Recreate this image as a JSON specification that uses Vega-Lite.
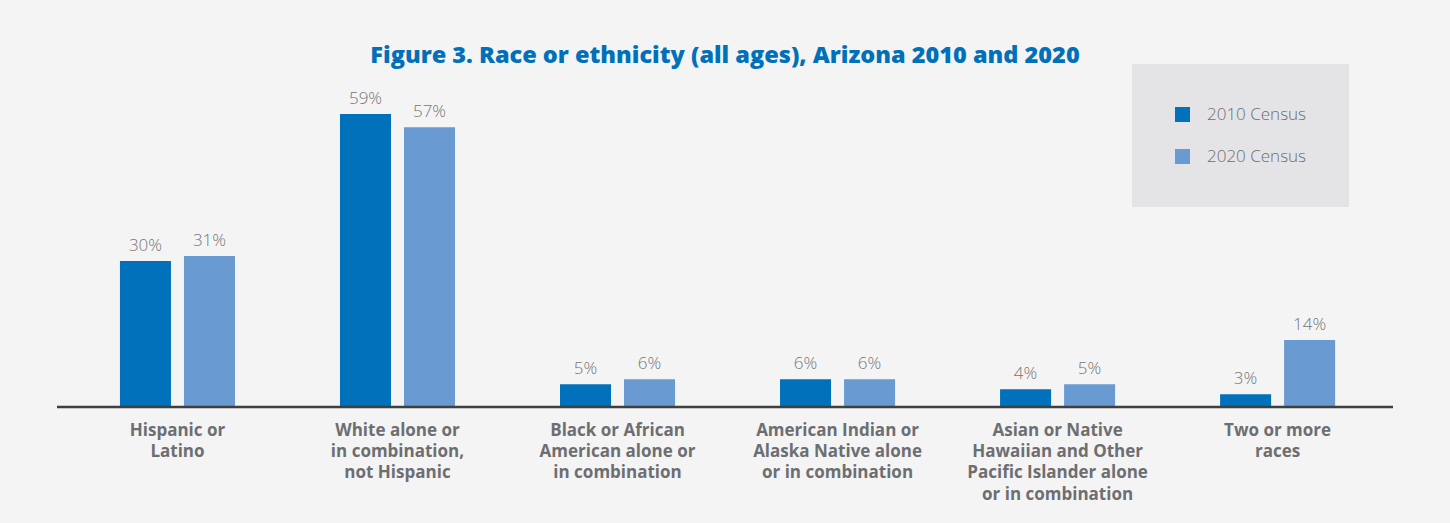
{
  "$schema": "https://vega.github.io/schema/vega-lite/v6.json",
  "width": 1336,
  "height": 296,
  "autosize": {"type": "none"},
  "padding": {"left": 57, "top": 111, "right": 57, "bottom": 116},
  "background": "#f4f4f4",
  "title": {
    "text": "Figure 3. Race or ethnicity (all ages), Arizona 2010 and 2020",
    "font": "Open Sans",
    "fontSize": 23.5,
    "fontWeight": 800,
    "color": "#0070bb",
    "anchor": "middle",
    "frame": "group",
    "offset": -3
  },
  "config": {
    "view": {"stroke": null},
    "font": "Open Sans"
  },
  "data": {
    "values": [
      {"group": "Hispanic or|Latino", "series": "2010 Census", "share": 0.296},
      {"group": "Hispanic or|Latino", "series": "2020 Census", "share": 0.306},
      {"group": "White alone or|in combination,|not Hispanic", "series": "2010 Census", "share": 0.594},
      {"group": "White alone or|in combination,|not Hispanic", "series": "2020 Census", "share": 0.567},
      {"group": "Black or African|American alone or|in combination", "series": "2010 Census", "share": 0.046},
      {"group": "Black or African|American alone or|in combination", "series": "2020 Census", "share": 0.056},
      {"group": "American Indian or|Alaska Native alone|or in combination", "series": "2010 Census", "share": 0.056},
      {"group": "American Indian or|Alaska Native alone|or in combination", "series": "2020 Census", "share": 0.056},
      {"group": "Asian or Native|Hawaiian and Other|Pacific Islander alone|or in combination", "series": "2010 Census", "share": 0.036},
      {"group": "Asian or Native|Hawaiian and Other|Pacific Islander alone|or in combination", "series": "2020 Census", "share": 0.046},
      {"group": "Two or more|races", "series": "2010 Census", "share": 0.026},
      {"group": "Two or more|races", "series": "2020 Census", "share": 0.136}
    ]
  },
  "encoding": {
    "x": {
      "field": "group",
      "type": "nominal",
      "sort": null,
      "scale": {"paddingInner": 0, "paddingOuter": 0.036, "align": 0.66},
      "axis": {
        "title": null,
        "domain": false,
        "ticks": false,
        "labelAngle": 0,
        "labelExpr": "split(datum.label, '|')",
        "labelFont": "Open Sans",
        "labelFontSize": 17,
        "labelFontWeight": "bold",
        "labelColor": "#6d6e71",
        "labelLineHeight": 21.4,
        "labelPadding": 15,
        "labelLimit": 0,
        "labelBaseline": "top"
      }
    },
    "xOffset": {
      "field": "series",
      "type": "nominal",
      "scale": {"paddingInner": 0.203, "paddingOuter": 0.82}
    },
    "y": {
      "field": "share",
      "type": "quantitative",
      "scale": {"domain": [0, 0.6]},
      "axis": null
    }
  },
  "layer": [
    {
      "mark": {"type": "bar"},
      "encoding": {
        "color": {
          "field": "series",
          "type": "nominal",
          "scale": {"domain": ["2010 Census", "2020 Census"], "range": ["#0071ba", "#699bd2"]},
          "legend": {
            "title": null,
            "orient": "none",
            "legendX": 1075,
            "legendY": -47,
            "fillColor": "#e4e4e6",
            "padding": 42,
            "rowPadding": 24,
            "symbolType": "square",
            "symbolSize": 225,
            "symbolStrokeWidth": 0,
            "symbolOffset": 0,
            "labelOffset": 16,
            "labelFont": "Open Sans",
            "labelFontSize": 17,
            "labelFontWeight": 300,
            "labelColor": "#6d6e71"
          }
        }
      }
    },
    {
      "mark": {"type": "text", "baseline": "bottom", "dy": -6, "font": "Open Sans", "fontSize": 17, "fontWeight": 300, "color": "#767676"},
      "encoding": {
        "text": {"field": "share", "type": "quantitative", "format": ".0%"}
      }
    },
    {
      "data": {"values": [{"base": 0}]},
      "mark": {"type": "rule", "color": "#3f3f3f", "strokeWidth": 2.5},
      "encoding": {
        "y": {"field": "base", "type": "quantitative"},
        "x": null,
        "xOffset": null
      }
    }
  ]
}
